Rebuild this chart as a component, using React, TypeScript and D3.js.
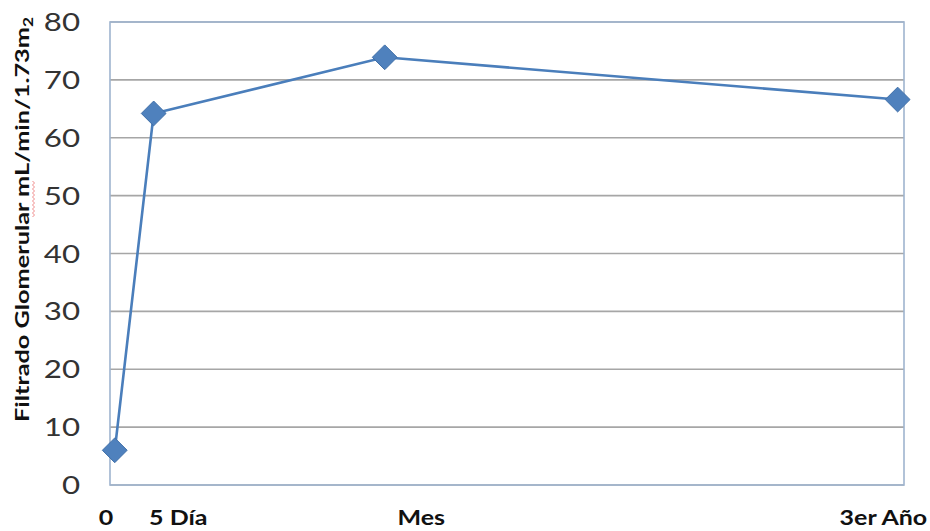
import React from "react";
import * as d3 from "d3";

// Glomerular filtration over follow-up
const timepoints = ["0", "5 Día", "Mes", "3er Año"];
const gfrValues = [6.0, 64.2, 73.9, 66.6];
// horizontal placement of each measurement along the time axis (0–100)
const pointPositions = [0.6, 5.5, 34.6, 99.2];
// horizontal placement of each category label along the time axis (0–100)
const labelPositions = [-0.5, 8.6, 39.2, 97.4];
const yTicks = [0, 10, 20, 30, 40, 50, 60, 70, 80];

const W = 930;
const H = 531;
const margin = { left: 110, right: 26, top: 22, bottom: 46 };
const stretch = 1.25; // wide lettering

export default function App() {
  const x = d3.scaleLinear().domain([0, 100]).range([margin.left, W - margin.right]);
  const y = d3.scaleLinear().domain([0, 80]).range([H - margin.bottom, margin.top]);

  const line = d3
    .line<number>()
    .x((_, i) => x(pointPositions[i]))
    .y((d) => y(d));

  const diamond = d3.symbol().type(d3.symbolDiamond2).size(2 * 14 * 14)();

  const font = "Lato, 'Open Sans', 'DejaVu Sans', sans-serif";
  const titleTop = 17;
  const titleBottom = 422;

  return (
    <svg
      width={W}
      height={H}
      style={{ position: "absolute", left: 0, top: 0, background: "#fff" }}
      fontFamily={font}
    >
      {/* horizontal gridlines */}
      {yTicks.map((t) => (
        <line
          key={"g" + t}
          x1={x(0)}
          x2={x(100)}
          y1={y(t)}
          y2={y(t)}
          stroke="#a6a6a6"
          strokeWidth={1.6}
        />
      ))}
      {/* plot frame */}
      <rect
        x={x(0)}
        y={y(80)}
        width={x(100) - x(0)}
        height={y(0) - y(80)}
        fill="none"
        stroke="#9fb4cf"
        strokeWidth={1.6}
      />
      {/* y tick labels */}
      {yTicks.map((t) => (
        <g key={"t" + t} transform={`translate(${x(0) - 30}, ${y(t)}) scale(${stretch}, 1)`}>
          <text dy="0.36em" textAnchor="end" fontSize={25} fill="#333">
            {t}
          </text>
        </g>
      ))}
      {/* y axis title */}
      <g transform={`translate(29, ${titleBottom}) rotate(-90)`}>
        <text
          fontSize={19}
          fontWeight="bold"
          fill="#111"
          textLength={titleBottom - titleTop}
          lengthAdjust="spacingAndGlyphs"
        >
          Filtrado Glomerular mL/min/1.73m
          <tspan fontSize={13} dy={4}>2</tspan>
        </text>
      </g>
      {/* spell-check underline beneath "mL" */}
      <path
        d={d3.range(0, 19).map((k) => `${k === 0 ? "M" : "L"}${k % 2 ? 34.5 : 32.5},${181 + k * 2}`).join("")}
        fill="none"
        stroke="#f08c8c"
        strokeWidth={1}
      />
      {/* x category labels */}
      {timepoints.map((c, i) => (
        <g key={"c" + c} transform={`translate(${x(labelPositions[i])}, ${H - 6}) scale(${stretch}, 1)`}>
          <text textAnchor="middle" fontSize={20} fontWeight="bold" fill="#111">
            {c}
          </text>
        </g>
      ))}
      {/* series */}
      <path d={line(gfrValues) ?? ""} fill="none" stroke="#4a7ebb" strokeWidth={2.6} />
      {gfrValues.map((v, i) => (
        <path
          key={"m" + i}
          d={diamond ?? ""}
          transform={`translate(${x(pointPositions[i])}, ${y(v)})`}
          fill="#4f81bd"
          stroke="#3f6fa8"
          strokeWidth={1}
        />
      ))}
    </svg>
  );
}
